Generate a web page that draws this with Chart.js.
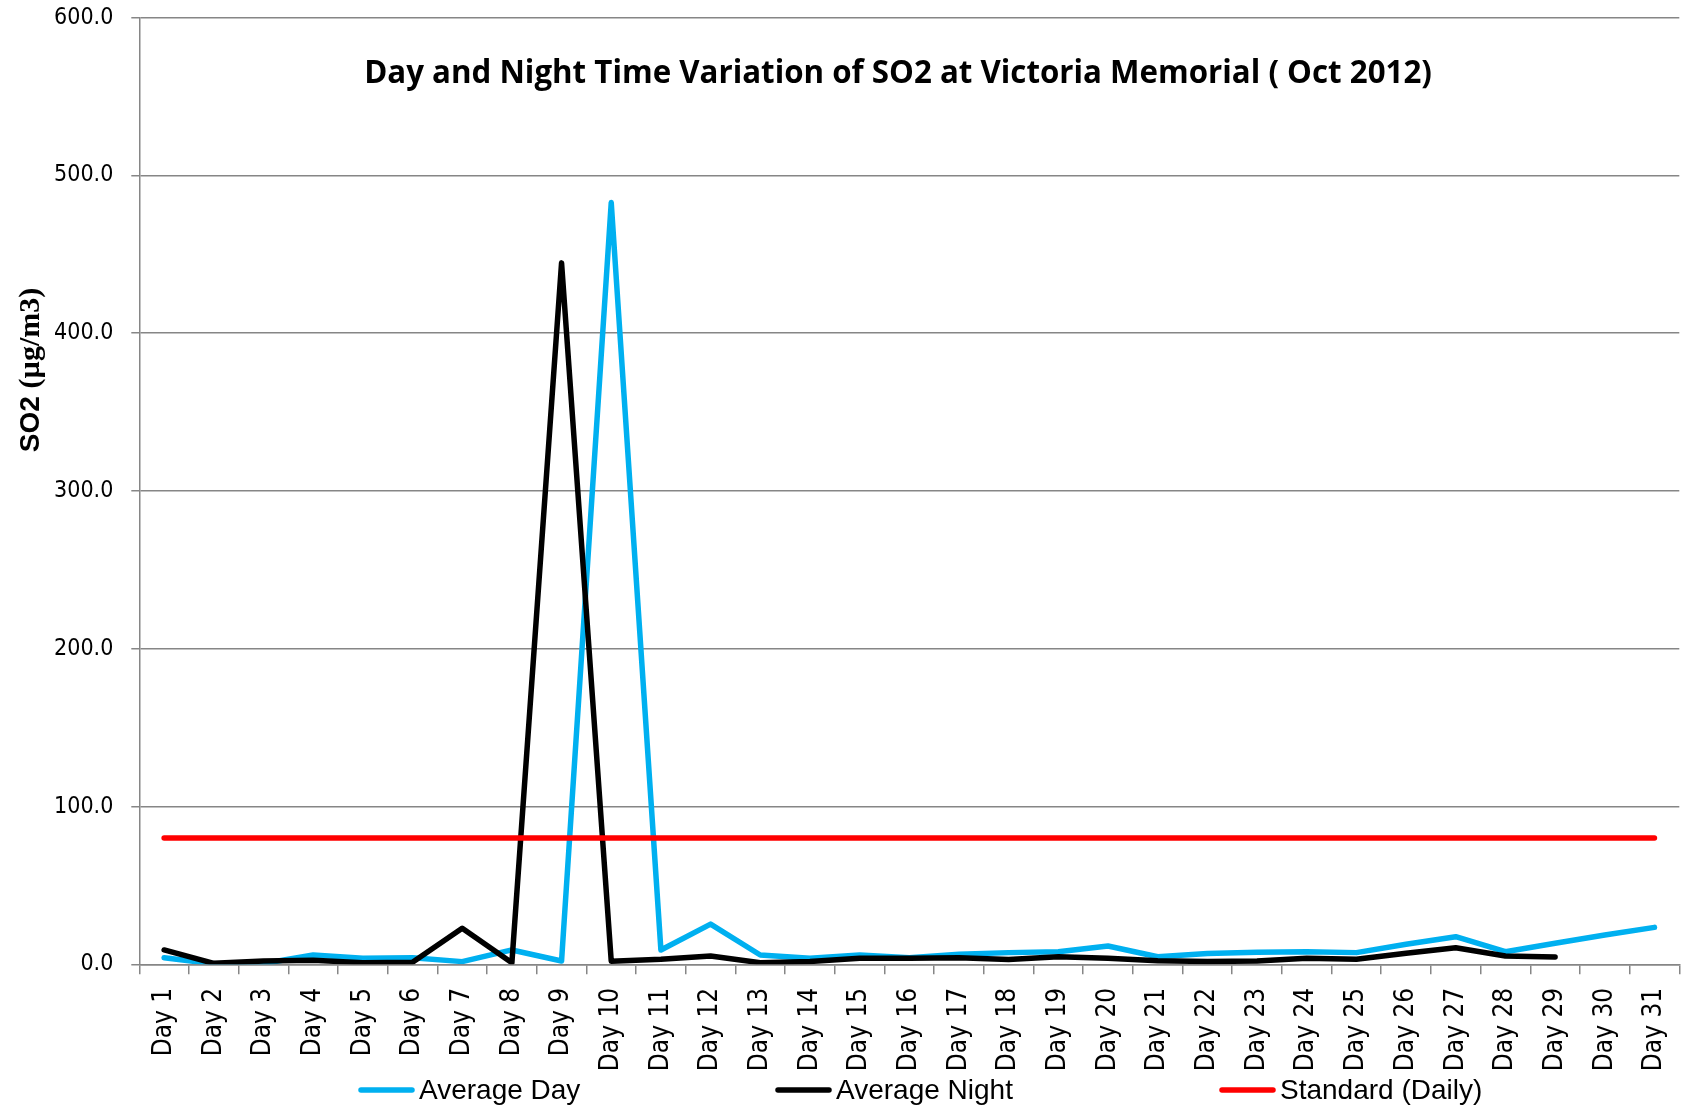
<!DOCTYPE html>
<html>
<head>
<meta charset="utf-8">
<script src="https://cdn.jsdelivr.net/npm/chart.js@4.4.1/dist/chart.umd.min.js"></script>
<style>
  html, body { margin: 0; padding: 0; background: #ffffff; }
  #wrap { position: relative; width: 1688px; height: 1111px; }
</style>
</head>
<body>
<div id="wrap"><canvas id="c"></canvas></div>
<script>
// ---- data ----
const categories = ["Day 1","Day 2","Day 3","Day 4","Day 5","Day 6","Day 7","Day 8","Day 9","Day 10",
  "Day 11","Day 12","Day 13","Day 14","Day 15","Day 16","Day 17","Day 18","Day 19","Day 20",
  "Day 21","Day 22","Day 23","Day 24","Day 25","Day 26","Day 27","Day 28","Day 29","Day 30","Day 31"];
const averageDay = [4.2, 0.3, 0.5, 5.9, 3.8, 4.2, 1.7, 9.1, 2.1, 482.8,
  9.1, 25.5, 5.9, 3.8, 5.9, 4.2, 6.3, 7.4, 8.0, 11.6,
  4.8, 6.9, 7.6, 8.0, 7.4, 12.7, 17.5, 8.0, 13.3, 18.6, 23.4];
const averageNight = [9.1, 0.6, 2.1, 2.6, 1.0, 1.3, 22.8, 1.0, 444.6, 2.0,
  3.2, 5.3, 1.0, 1.7, 3.8, 3.8, 4.2, 3.0, 4.8, 3.8,
  2.3, 1.7, 2.1, 3.8, 3.2, 7.0, 10.5, 5.3, 4.6, null, null];
const standardDaily = [80, 80, 80, 80, 80, 80, 80, 80, 80, 80,
  80, 80, 80, 80, 80, 80, 80, 80, 80, 80,
  80, 80, 80, 80, 80, 80, 80, 80, 80, 80, 80];
const yTicks = [0, 100, 200, 300, 400, 500, 600];
const seriesNames = ["Average Day", "Average Night", "Standard (Daily)"];
const chartTitle = "Day and Night Time Variation of SO2 at Victoria Memorial ( Oct 2012)";
const yTitleSans = "SO2 ";
const yTitleSerif = "(\u00B5g/m3)";

// ---- custom text plugin (title, y-axis title, legend) ----
const decor = {
  id: 'decor',
  afterDraw(chart) {
    const ctx = chart.ctx;
    ctx.save();
    // Title (overlaid inside the plot area)
    let size = 28;
    ctx.font = 'bold ' + size + 'px "Open Sans", "Liberation Sans", sans-serif';
    const w = ctx.measureText(chartTitle).width;
    size = size * 1068 / w;
    ctx.font = 'bold ' + size.toFixed(2) + 'px "Open Sans", "Liberation Sans", sans-serif';
    ctx.fillStyle = '#000';
    ctx.textAlign = 'center';
    ctx.textBaseline = 'alphabetic';
    ctx.fillText(chartTitle, 898, 83);

    // Y axis title, rotated
    ctx.save();
    ctx.translate(31, 370);
    ctx.rotate(-Math.PI / 2);
    const fSans = 'bold 28px "Liberation Sans", Arial, sans-serif';
    const fSerif = 'bold 30px "Liberation Serif", "Times New Roman", serif';
    ctx.font = fSans; const w1 = ctx.measureText(yTitleSans).width;
    ctx.font = fSerif; const w2 = ctx.measureText(yTitleSerif).width;
    const x0 = -(w1 + w2) / 2;
    ctx.textAlign = 'left';
    ctx.textBaseline = 'middle';
    ctx.font = fSans; ctx.fillText(yTitleSans, x0, 0);
    ctx.font = fSerif; ctx.fillText(yTitleSerif, x0 + w1, 0);
    ctx.restore();

    // Legend
    const starts = [359, 776, 1220];
    const ly = 1090;
    ctx.font = '28px "Liberation Sans", Arial, sans-serif';
    ctx.textAlign = 'left';
    ctx.textBaseline = 'middle';
    chart.data.datasets.forEach((ds, i) => {
      const x = starts[i];
      ctx.strokeStyle = ds.borderColor;
      ctx.lineWidth = 5.5;
      ctx.lineCap = 'round';
      ctx.beginPath();
      ctx.moveTo(x + 2, ly);
      ctx.lineTo(x + 53, ly);
      ctx.stroke();
      ctx.fillStyle = '#000';
      ctx.fillText(ds.label, x + 60, ly + 1);
    });
    ctx.restore();
  }
};

const gridColor = '#868686';
const tickFont = '"DejaVu Sans Condensed", "DejaVu Sans", sans-serif';

new Chart(document.getElementById('c'), {
  type: 'line',
  data: {
    labels: categories,
    datasets: [
      { label: seriesNames[0], data: averageDay, borderColor: '#00B0F0', backgroundColor: '#00B0F0', order: 3 },
      { label: seriesNames[1], data: averageNight, borderColor: '#000000', backgroundColor: '#000000', order: 2 },
      { label: seriesNames[2], data: standardDaily, borderColor: '#FF0000', backgroundColor: '#FF0000', order: 1 }
    ]
  },
  options: {
    responsive: true,
    maintainAspectRatio: false,
    animation: false,
    layout: { padding: { top: 17.7, right: 8.7, left: 0, bottom: 0 } },
    elements: {
      line: { borderWidth: 5.5, tension: 0, borderCapStyle: 'round', borderJoinStyle: 'round', fill: false },
      point: { radius: 0, hoverRadius: 0 }
    },
    spanGaps: false,
    plugins: {
      legend: { display: false },
      title: { display: false },
      tooltip: { enabled: false }
    },
    scales: {
      x: {
        type: 'category',
        offset: true,
        grid: { display: true, drawOnChartArea: false, drawTicks: true, tickLength: 10, offset: true, color: gridColor, lineWidth: 1.5 },
        border: { display: true, color: gridColor, width: 1.5 },
        ticks: {
          autoSkip: false, maxRotation: 90, minRotation: 90, padding: 13.5,
          color: '#000', font: { family: tickFont, size: 26 }
        },
        afterFit(scale) { scale.height = 146.7; scale.paddingLeft = 0; scale.paddingRight = 0; }
      },
      y: {
        min: 0, max: 600,
        afterBuildTicks(scale) { scale.ticks = yTicks.map(v => ({ value: v })); },
        grid: { color: gridColor, lineWidth: 1.5, tickLength: 8, drawTicks: true },
        border: { display: true, color: gridColor, width: 1.5 },
        ticks: {
          padding: 18, color: '#000',
          font: { family: tickFont, size: 23 },
          callback: (v) => Number(v).toFixed(1)
        },
        afterFit(scale) { scale.width = 139.3; scale.paddingTop = 0; scale.paddingBottom = 0; }
      }
    }
  },
  plugins: [decor]
});
</script>
</body>
</html>
